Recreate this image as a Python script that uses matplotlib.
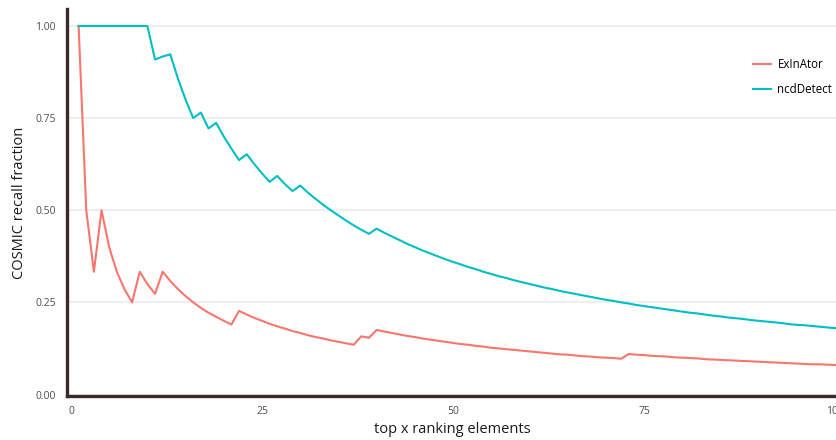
import matplotlib
matplotlib.use("Agg")
import matplotlib.pyplot as plt

plt.rcParams['font.family'] = ['Open Sans', 'DejaVu Sans']

top_x = list(range(1, 101))

exinator = [
    1.000, 0.500, 0.333, 0.500, 0.400, 0.333, 0.286, 0.250, 0.333, 0.300,
    0.273, 0.333, 0.308, 0.286, 0.267, 0.250, 0.235, 0.222, 0.211, 0.200,
    0.190, 0.227, 0.217, 0.208, 0.200, 0.192, 0.185, 0.179, 0.172, 0.167,
    0.161, 0.156, 0.152, 0.147, 0.143, 0.139, 0.135, 0.158, 0.154, 0.175,
    0.171, 0.167, 0.163, 0.159, 0.156, 0.152, 0.149, 0.146, 0.143, 0.140,
    0.137, 0.135, 0.132, 0.130, 0.127, 0.125, 0.123, 0.121, 0.119, 0.117,
    0.115, 0.113, 0.111, 0.109, 0.108, 0.106, 0.104, 0.103, 0.101, 0.100,
    0.099, 0.097, 0.110, 0.108, 0.107, 0.105, 0.104, 0.103, 0.101, 0.100,
    0.099, 0.098, 0.096, 0.095, 0.094, 0.093, 0.092, 0.091, 0.090, 0.089,
    0.088, 0.087, 0.086, 0.085, 0.084, 0.083, 0.082, 0.082, 0.081, 0.080,
]

ncddetect = [
    1.000, 1.000, 1.000, 1.000, 1.000, 1.000, 1.000, 1.000, 1.000, 1.000,
    0.909, 0.917, 0.923, 0.857, 0.800, 0.750, 0.765, 0.722, 0.737, 0.700,
    0.667, 0.636, 0.652, 0.625, 0.600, 0.577, 0.593, 0.571, 0.552, 0.567,
    0.548, 0.531, 0.515, 0.500, 0.486, 0.472, 0.459, 0.447, 0.436, 0.450,
    0.439, 0.429, 0.419, 0.409, 0.400, 0.391, 0.383, 0.375, 0.367, 0.360,
    0.353, 0.346, 0.340, 0.333, 0.327, 0.321, 0.316, 0.310, 0.305, 0.300,
    0.295, 0.290, 0.286, 0.281, 0.277, 0.273, 0.269, 0.265, 0.261, 0.257,
    0.254, 0.250, 0.247, 0.243, 0.240, 0.237, 0.234, 0.231, 0.228, 0.225,
    0.222, 0.220, 0.217, 0.214, 0.212, 0.209, 0.207, 0.205, 0.202, 0.200,
    0.198, 0.196, 0.194, 0.191, 0.189, 0.188, 0.186, 0.184, 0.182, 0.180,
]

series_names = ["ExInAtor", "ncdDetect"]
series_colors = ["#F8766D", "#00BFC4"]
x_ticks = [0, 25, 50, 75, 100]
y_ticks = [0.00, 0.25, 0.50, 0.75, 1.00]
y_tick_labels = ["0.00", "0.25", "0.50", "0.75", "1.00"]

fig = plt.figure(figsize=(8.37, 4.40), dpi=100)
ax = fig.add_axes([67/837, 44/440, 770/837, 387/440])

for yt in y_ticks:
    ax.axhline(yt, color="#EBEBEB", lw=1.1, zorder=0)

for vals, name, col in zip([exinator, ncddetect], series_names, series_colors):
    ax.plot(top_x, vals, color=col, lw=1.5, label=name, zorder=3)

ax.set_xlim(-0.52, 100.26)
ax.set_ylim(-0.004, 1.046)
ax.set_xticks(x_ticks)
ax.set_xticklabels([str(t) for t in x_ticks])
ax.set_yticks(y_ticks)
ax.set_yticklabels(y_tick_labels)
ax.tick_params(length=0, labelsize=7.5, colors="#4D4D4D")
ax.tick_params(axis='y', pad=8)
ax.tick_params(axis='x', pad=7)

for s in ["top", "right"]:
    ax.spines[s].set_visible(False)
for s in ["left", "bottom"]:
    ax.spines[s].set_color("#3B2A2A")
    ax.spines[s].set_linewidth(2.4)

ax.set_xlabel("top x ranking elements", fontsize=10.5, color="#1A1A1A", labelpad=4)
ax.set_ylabel("COSMIC recall fraction", fontsize=10.5, color="#1A1A1A", labelpad=6)

leg = ax.legend(loc="upper left", bbox_to_anchor=(0.877, 0.90), frameon=False,
                fontsize=8.3, handlelength=1.6, handletextpad=0.55, labelspacing=1.05)

fig.savefig("out.png", dpi=100)
